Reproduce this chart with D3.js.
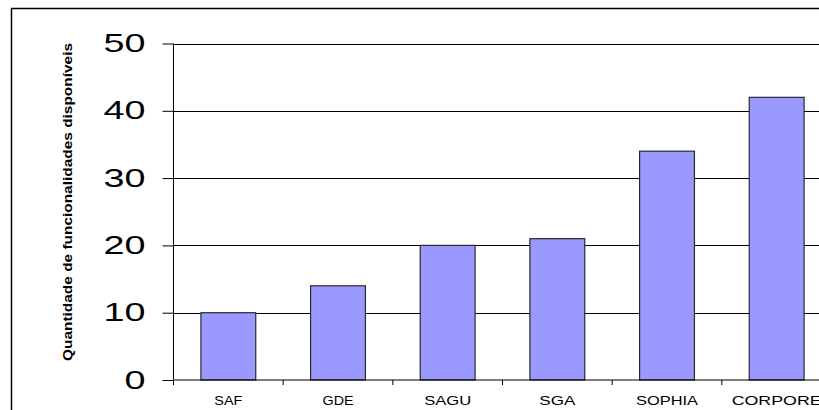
<!DOCTYPE html>
<html>
<head>
<meta charset="utf-8">
<script src="https://cdn.jsdelivr.net/npm/d3@7"></script>
<style>
  body { margin: 0; background: #fff; }
  svg { display: block; font-family: Arial, "Liberation Sans", sans-serif; }
</style>
</head>
<body>
<svg id="chart" width="819" height="410"></svg>
<script>
// data
const categories = ["SAF", "GDE", "SAGU", "SGA", "SOPHIA", "CORPORE"];
const values = [10, 14, 20, 21, 34, 42];
const yTicks = [0, 10, 20, 30, 40, 50];
const yTitle = "Quantidade de funcionalidades disponíveis";

// label widths as they appear in the source picture
const labelWidths = [28, 31, 47, 36, 62, 90];

const svg = d3.select("#chart");
const w = 819, h = 410;

svg.append("rect").attr("width", w).attr("height", h).attr("fill", "#fff");

// outer chart frame (right/bottom are off the picture)
svg.append("path")
    .attr("d", "M11.5,420 V8.5 H830")
    .attr("fill", "none").attr("stroke", "#000").attr("stroke-width", 1.5);

const plotLeft = 173.5, plotTop = 43.5, plotBottom = 380, plotRight = 831.5;

const x = d3.scaleBand().domain(categories).range([plotLeft, plotRight])
    .paddingInner(0.5).paddingOuter(0.25);
const y = d3.scaleLinear().domain([0, 50]).range([plotBottom, plotTop]);

// gridlines
svg.append("g").selectAll("line")
    .data(yTicks.filter(d => d > 0))
    .join("line")
    .attr("x1", plotLeft).attr("x2", plotRight)
    .attr("y1", d => Math.round(y(d)) + 0.5).attr("y2", d => Math.round(y(d)) + 0.5)
    .attr("stroke", "#000").attr("stroke-width", 1);

// bars
svg.append("g").selectAll("rect")
    .data(values)
    .join("rect")
    .attr("x", (d, i) => x(categories[i]))
    .attr("y", d => y(d))
    .attr("width", x.bandwidth())
    .attr("height", d => plotBottom - y(d))
    .attr("fill", "#9999ff")
    .attr("stroke", "#2a2a2a").attr("stroke-width", 1.2);

// y axis
const yAxis = svg.append("g")
    .attr("transform", `translate(${plotLeft},0)`)
    .call(d3.axisLeft(y).tickValues(yTicks).tickSize(11).tickPadding(17).tickFormat(d3.format("d")));
yAxis.select(".domain").attr("d", `M0,${plotTop}V${plotBottom + 5}`).attr("stroke", "#000");
yAxis.selectAll(".tick line").attr("stroke", "#000");
yAxis.selectAll("text")
    .attr("font-size", 25).attr("fill", "#000")
    .attr("font-family", "Arial, 'Liberation Sans', sans-serif")
    .attr("textLength", d => String(d).length * 21)
    .attr("lengthAdjust", "spacingAndGlyphs");

// x axis line and category separator ticks
svg.append("line")
    .attr("x1", plotLeft).attr("x2", plotRight).attr("y1", plotBottom).attr("y2", plotBottom)
    .attr("stroke", "#000");
svg.append("g").selectAll("line")
    .data(d3.range(categories.length + 1))
    .join("line")
    .attr("x1", i => plotLeft + i * x.step()).attr("x2", i => plotLeft + i * x.step())
    .attr("y1", plotBottom).attr("y2", plotBottom + 5)
    .attr("stroke", "#000");

svg.append("g").selectAll("text")
    .data(categories)
    .join("text")
    .attr("x", d => x(d) + x.bandwidth() / 2)
    .attr("y", 405)
    .attr("text-anchor", "middle")
    .attr("font-size", 13)
    .attr("textLength", (d, i) => labelWidths[i])
    .attr("lengthAdjust", "spacingAndGlyphs")
    .attr("fill", "#000")
    .text(d => d);

// y title
svg.append("text")
    .attr("transform", "translate(72,202) rotate(-90)")
    .attr("text-anchor", "middle")
    .attr("font-size", 12.5)
    .attr("font-weight", "bold")
    .attr("textLength", 318)
    .attr("lengthAdjust", "spacingAndGlyphs")
    .attr("fill", "#000")
    .text(yTitle);
</script>
</body>
</html>
